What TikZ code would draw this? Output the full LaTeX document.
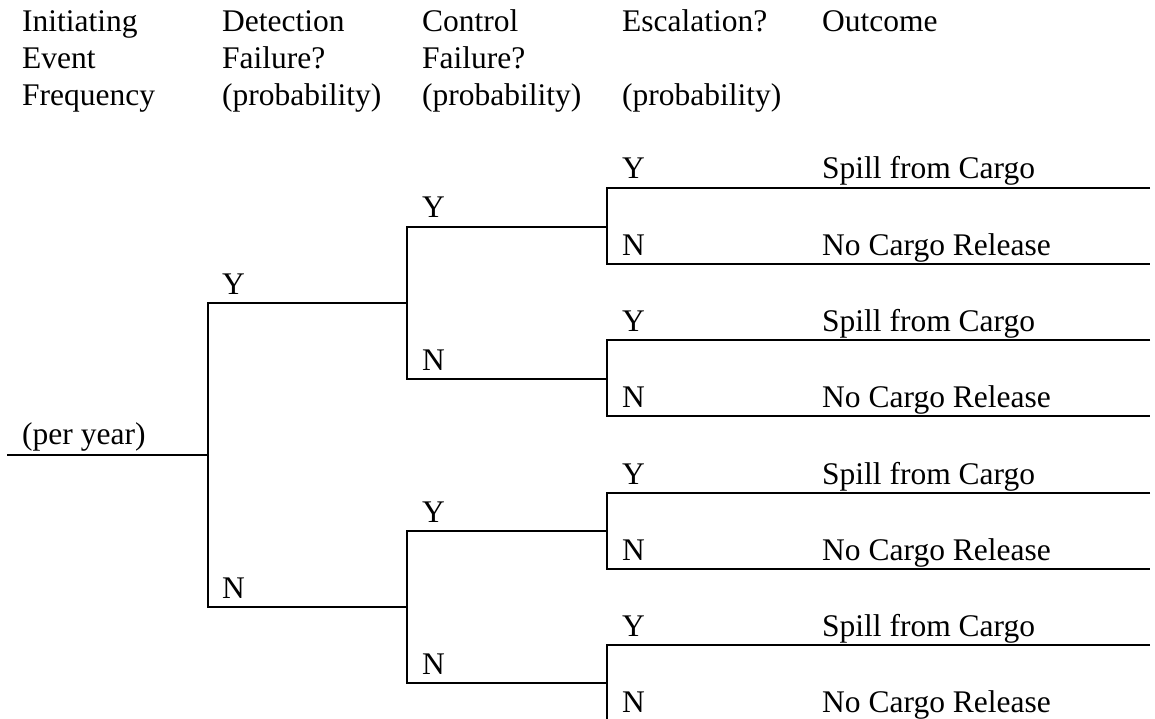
\documentclass[tikz,border=0pt]{standalone}
\usepackage{fontspec}
\setmainfont{Liberation Serif}
\usetikzlibrary{positioning}

\begin{document}
\begin{tikzpicture}[
  x=1pt, y=-1pt,
  lbl/.style={anchor=base west, inner sep=0pt,
              font=\fontsize{31.5}{37}\selectfont},
  hdr/.style={lbl, align=left},
  branch/.style={line width=1.5pt}
]
  \useasboundingbox (0,0) rectangle (1155,719);

  % column headings (base = last line)
  \node[hdr] (hInit) at (22,106) {Initiating\\Event\\Frequency};
  \node[hdr] (hDet)  at (222,106) {Detection\\Failure?\\(probability)};
  \node[hdr] (hCtl)  at (422,106) {Control\\Failure?\\(probability)};
  \node[hdr] (hEsc)  at (622,106) {Escalation?\\\\(probability)};
  \node[hdr] (hOut)  at (822,32) {Outcome};

  % initiating event
  \coordinate (start) at (7,455);
  \coordinate (det) at (208,455);
  \node[lbl] (freq) at (22,444) {(per year)};
  \draw[branch] (start) -- (det);

  % detection failure
  \coordinate (detY) at (407,303);
  \coordinate (detN) at (407,607);
  \draw[branch] (detY) -| (det) |- (detN);
  \node[lbl] (lblDetY) at (222,294) {Y};
  \node[lbl] (lblDetN) at (222,598) {N};

  % control failure
  \foreach \yc/\name in {303/ctlA, 607/ctlB}{
    \coordinate (\name) at (407,\yc);
    \coordinate (\name Y) at (607,\yc-76);
    \coordinate (\name N) at (607,\yc+76);
    \draw[branch] (\name Y) -| (\name) |- (\name N);
    \node[lbl] at (422,\yc-85) {Y};
    \node[lbl] at (422,\yc+67) {N};
  }

  % escalation and outcome
  \foreach \yc/\name in {226/escA, 378/escB, 531/escC, 683/escD}{
    \coordinate (\name) at (607,\yc);
    \coordinate (\name Y) at (1150,\yc-38);
    \coordinate (\name N) at (1150,\yc+38);
    \draw[branch] (\name Y) -| (\name) |- (\name N);
    \node[lbl] at (622,\yc-47) {Y};
    \node[lbl] at (622,\yc+29) {N};
    \node[lbl] at (822,\yc-47) {Spill from Cargo};
    \node[lbl] at (822,\yc+29) {No Cargo Release};
  }
\end{tikzpicture}
\end{document}
